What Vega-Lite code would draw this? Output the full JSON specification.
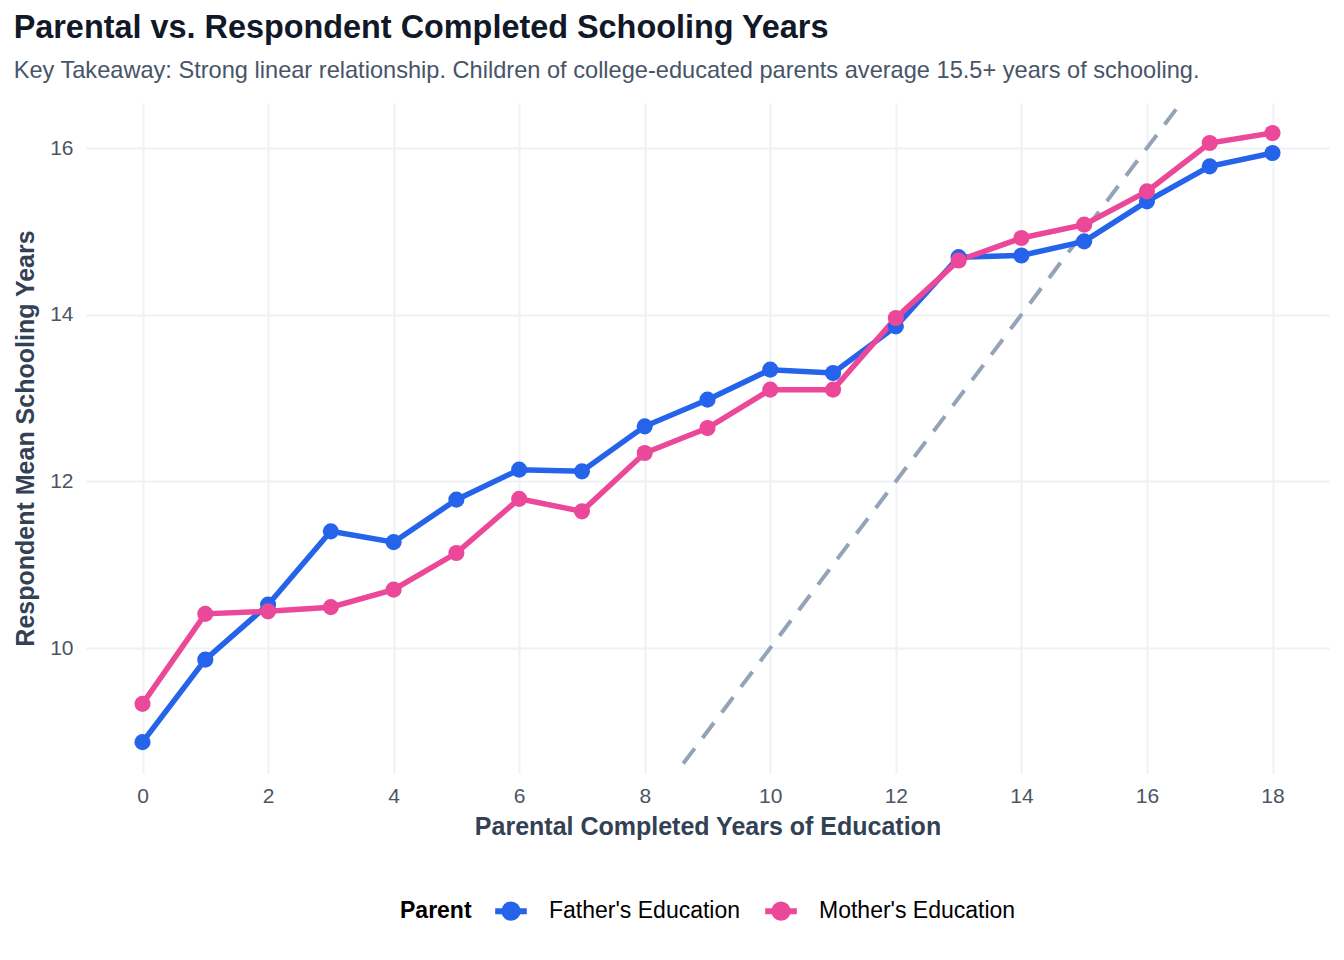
{
  "$schema": "https://vega.github.io/schema/vega-lite/v6.json",
  "width": 1243,
  "height": 670,
  "autosize": {"type": "none"},
  "padding": {"left": 86, "top": 103, "right": 15, "bottom": 187},
  "background": "white",
  "title": {
    "text": "Parental vs. Respondent Completed Schooling Years",
    "subtitle": "Key Takeaway: Strong linear relationship. Children of college-educated parents average 15.5+ years of schooling.",
    "anchor": "start",
    "frame": "bounds",
    "font": "Liberation Sans",
    "fontSize": 32.4,
    "fontWeight": "bold",
    "color": "#111827",
    "subtitleFont": "Liberation Sans",
    "subtitleFontSize": 23.6,
    "subtitleColor": "#475569",
    "subtitlePadding": 15,
    "offset": 20
  },
  "datasets": {
    "diag": [
      {"x": 8, "y": 8},
      {"x": 17, "y": 17}
    ],
    "schooling": [
      {"parent_years": 0, "parent": "Father's Education", "resp_years": 8.87},
      {"parent_years": 1, "parent": "Father's Education", "resp_years": 9.86},
      {"parent_years": 2, "parent": "Father's Education", "resp_years": 10.52},
      {"parent_years": 3, "parent": "Father's Education", "resp_years": 11.40},
      {"parent_years": 4, "parent": "Father's Education", "resp_years": 11.27},
      {"parent_years": 5, "parent": "Father's Education", "resp_years": 11.78},
      {"parent_years": 6, "parent": "Father's Education", "resp_years": 12.14},
      {"parent_years": 7, "parent": "Father's Education", "resp_years": 12.12},
      {"parent_years": 8, "parent": "Father's Education", "resp_years": 12.66},
      {"parent_years": 9, "parent": "Father's Education", "resp_years": 12.98},
      {"parent_years": 10, "parent": "Father's Education", "resp_years": 13.34},
      {"parent_years": 11, "parent": "Father's Education", "resp_years": 13.30},
      {"parent_years": 12, "parent": "Father's Education", "resp_years": 13.86},
      {"parent_years": 13, "parent": "Father's Education", "resp_years": 14.69},
      {"parent_years": 14, "parent": "Father's Education", "resp_years": 14.71},
      {"parent_years": 15, "parent": "Father's Education", "resp_years": 14.88},
      {"parent_years": 16, "parent": "Father's Education", "resp_years": 15.36},
      {"parent_years": 17, "parent": "Father's Education", "resp_years": 15.78},
      {"parent_years": 18, "parent": "Father's Education", "resp_years": 15.94},
      {"parent_years": 0, "parent": "Mother's Education", "resp_years": 9.33},
      {"parent_years": 1, "parent": "Mother's Education", "resp_years": 10.41},
      {"parent_years": 2, "parent": "Mother's Education", "resp_years": 10.44},
      {"parent_years": 3, "parent": "Mother's Education", "resp_years": 10.49},
      {"parent_years": 4, "parent": "Mother's Education", "resp_years": 10.70},
      {"parent_years": 5, "parent": "Mother's Education", "resp_years": 11.14},
      {"parent_years": 6, "parent": "Mother's Education", "resp_years": 11.79},
      {"parent_years": 7, "parent": "Mother's Education", "resp_years": 11.64},
      {"parent_years": 8, "parent": "Mother's Education", "resp_years": 12.34},
      {"parent_years": 9, "parent": "Mother's Education", "resp_years": 12.64},
      {"parent_years": 10, "parent": "Mother's Education", "resp_years": 13.10},
      {"parent_years": 11, "parent": "Mother's Education", "resp_years": 13.10},
      {"parent_years": 12, "parent": "Mother's Education", "resp_years": 13.96},
      {"parent_years": 13, "parent": "Mother's Education", "resp_years": 14.65},
      {"parent_years": 14, "parent": "Mother's Education", "resp_years": 14.92},
      {"parent_years": 15, "parent": "Mother's Education", "resp_years": 15.08},
      {"parent_years": 16, "parent": "Mother's Education", "resp_years": 15.48},
      {"parent_years": 17, "parent": "Mother's Education", "resp_years": 16.06},
      {"parent_years": 18, "parent": "Mother's Education", "resp_years": 16.18}
    ]
  },
  "encoding": {
    "x": {
      "field": "parent_years",
      "type": "quantitative",
      "title": "Parental Completed Years of Education",
      "scale": {"domain": [-0.9, 18.9], "nice": false, "zero": false},
      "axis": {"values": [0, 2, 4, 6, 8, 10, 12, 14, 16, 18], "labelPadding": 12, "titlePadding": 8}
    },
    "y": {
      "field": "resp_years",
      "type": "quantitative",
      "title": "Respondent Mean Schooling Years",
      "scale": {"domain": [8.5, 16.54], "nice": false, "zero": false},
      "axis": {"values": [10, 12, 14, 16], "labelPadding": 13, "titlePadding": 11}
    }
  },
  "layer": [
    {
      "data": {"name": "diag"},
      "mark": {"type": "line", "color": "#94A3B8", "strokeWidth": 4, "strokeDash": [19, 13], "clip": true},
      "encoding": {
        "x": {"field": "x", "type": "quantitative"},
        "y": {"field": "y", "type": "quantitative"}
      }
    },
    {
      "data": {"name": "schooling"},
      "mark": {"type": "line", "strokeWidth": 5.5},
      "encoding": {
        "color": {
          "field": "parent",
          "type": "nominal",
          "title": "Parent",
          "scale": {"domain": ["Father's Education", "Mother's Education"], "range": ["#2563EB", "#EC4899"]},
          "legend": {
            "orient": "none",
            "legendX": 314,
            "legendY": 789,
            "direction": "horizontal",
            "titleOrient": "left",
            "symbolType": "M-1,0H1M0.42,0A0.42,0.42 0 1,1 -0.42,0A0.42,0.42 0 1,1 0.42,0Z",
            "symbolSize": 1000,
            "symbolStrokeWidth": 6,
            "labelOffset": 19,
            "columnPadding": 12,
            "titlePadding": 20,
            "encode": {
              "symbols": {"update": {"fill": {"scale": "color", "field": "value"}, "fillOpacity": {"value": 1}}}
            }
          }
        }
      }
    },
    {
      "data": {"name": "schooling"},
      "mark": {"type": "point", "filled": true, "size": 260, "opacity": 1},
      "encoding": {
        "color": {"field": "parent", "type": "nominal", "legend": null}
      }
    }
  ],
  "config": {
    "view": {"stroke": null},
    "font": "Liberation Sans",
    "axis": {
      "domain": false,
      "ticks": false,
      "gridColor": "#EEF2F6",
      "gridWidth": 2,
      "labelFont": "Liberation Sans",
      "labelFontSize": 21,
      "labelColor": "#4B5563",
      "titleFont": "Liberation Sans",
      "titleFontSize": 25,
      "titleFontWeight": "bold",
      "titleColor": "#334155"
    },
    "legend": {
      "titleFont": "Liberation Sans",
      "titleFontSize": 23,
      "titleFontWeight": "bold",
      "titleColor": "#000000",
      "labelFont": "Liberation Sans",
      "labelFontSize": 23,
      "labelColor": "#000000",
      "labelLimit": 400
    }
  }
}
